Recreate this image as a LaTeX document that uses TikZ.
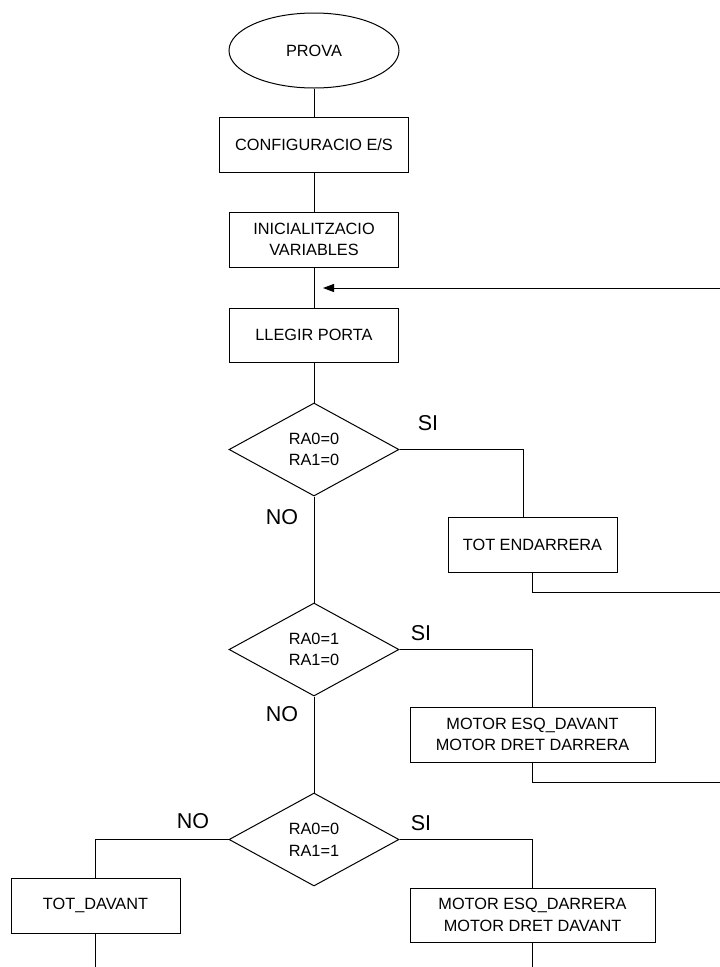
\documentclass[tikz,border=0pt]{standalone}
\usepackage{fontspec}
\setmainfont{Liberation Sans}
\usetikzlibrary{shapes.geometric,arrows.meta}
\begin{document}
\begin{tikzpicture}[x=1pt,y=-1pt,
  every path/.style={line width=1pt},
  boxtext/.style={font=\fontsize{16.3}{21.7}\selectfont, align=center},
  procbox/.style={draw, rectangle, inner sep=0pt, boxtext},
  startend/.style={draw, ellipse, inner sep=0pt, boxtext},
  decision/.style={draw, diamond, inner sep=0pt, minimum width=170pt, minimum height=93pt, boxtext},
  branchlabel/.style={font=\fontsize{21.5}{24}\selectfont, inner sep=0pt}
]
\useasboundingbox (0,0) rectangle (720,967);

% main column
\node[startend, minimum width=170pt, minimum height=75pt] (start) at (314,50.5) {PROVA};
\node[procbox, minimum width=189pt, minimum height=55pt] (cfg) at (314,144.5) {CONFIGURACIO E/S};
\node[procbox, minimum width=169pt, minimum height=55pt] (init) at (314,239.5) {INICIALITZACIO\\VARIABLES};
\node[procbox, minimum width=169pt, minimum height=54pt] (read) at (314,335) {LLEGIR PORTA};
\node[decision] (d1) at (314,449.5) {RA0=0\\RA1=0};
\node[decision] (d2) at (314,649.5) {RA0=1\\RA1=0};
\node[decision] (d3) at (314,839.5) {RA0=0\\RA1=1};

% branch actions
\node[procbox, minimum width=169pt, minimum height=55pt] (back) at (532.5,544.5) {TOT ENDARRERA};
\node[procbox, minimum width=245pt, minimum height=55pt] (m1) at (532.5,734.5) {MOTOR ESQ\_DAVANT\\MOTOR DRET DARRERA};
\node[procbox, minimum width=169pt, minimum height=55pt] (fwd) at (95.5,905.5) {TOT\_DAVANT};
\node[procbox, minimum width=245pt, minimum height=54pt] (m2) at (532.5,915) {MOTOR ESQ\_DARRERA\\MOTOR DRET DAVANT};

% loop-back points and open ends
\coordinate (loopin) at (720,288);
\coordinate (looptip) at (323,288);
\coordinate (backjoin) at (523.3,0);
\coordinate (out1) at (720,592.5);
\coordinate (out2) at (720,782);
\coordinate (endfwd) at (95.5,967);
\coordinate (endm2) at (532.5,967);

% main flow
\draw (start) -- (cfg);
\draw (cfg) -- (init);
\draw (init) -- (read);
\draw (read) -- (d1);
\draw (d1) -- (d2);
\draw (d2) -- (d3);

% return arrow
\draw[-{Triangle[length=11pt,width=8pt]}] (loopin) -- (looptip);

% decision 1
\draw (d1.east) -| (backjoin |- back.north);
\draw (back.south) |- (out1);

% decision 2
\draw (d2.east) -| (m1.north);
\draw (m1.south) |- (out2);

% decision 3
\draw (d3.west) -| (fwd.north);
\draw (fwd.south) -- (endfwd);
\draw (d3.east) -| (m2.north);
\draw (m2.south) -- (endm2);

% branch labels
\node[branchlabel] (si1) at (428,423) {SI};
\node[branchlabel] (no1) at (282,517) {NO};
\node[branchlabel] (si2) at (421,633) {SI};
\node[branchlabel] (no2) at (282,714) {NO};
\node[branchlabel] (si3) at (421,823) {SI};
\node[branchlabel] (no3) at (193,821) {NO};
\end{tikzpicture}
\end{document}
